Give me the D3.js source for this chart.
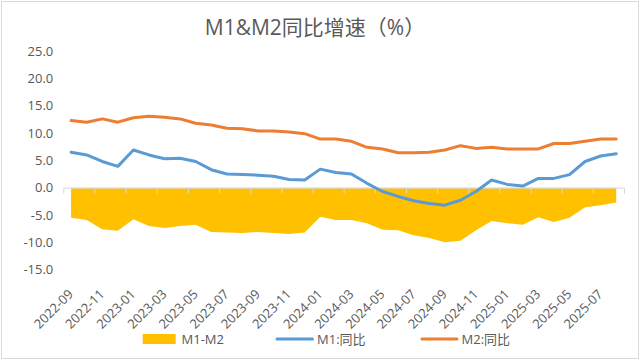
<!DOCTYPE html>
<html>
<head>
<meta charset="utf-8">
<script src="https://cdn.jsdelivr.net/npm/d3@7"></script>
<style>
  html, body { margin: 0; padding: 0; background: #fff; }
  svg { display: block; }
  text { font-family: "Open Sans", "Noto Sans CJK SC", sans-serif; fill: #595959; }
</style>
</head>
<body>
<svg id="chart" width="641" height="360"></svg>
<script>
const months = ["2022-09","2022-10","2022-11","2022-12","2023-01","2023-02","2023-03","2023-04","2023-05","2023-06","2023-07","2023-08",
  "2023-09","2023-10","2023-11","2023-12","2024-01","2024-02","2024-03","2024-04","2024-05","2024-06","2024-07","2024-08",
  "2024-09","2024-10","2024-11","2024-12","2025-01","2025-02","2025-03","2025-04","2025-05","2025-06","2025-07","2025-08"];
const m1 = [6.5, 6.0, 4.8, 3.9, 6.9, 6.0, 5.3, 5.4, 4.8, 3.3, 2.5, 2.4, 2.3, 2.1, 1.5, 1.4, 3.4, 2.8,
  2.5, 0.8, -0.7, -1.6, -2.4, -2.9, -3.2, -2.3, -0.7, 1.4, 0.6, 0.3, 1.7, 1.7, 2.4, 4.8, 5.8, 6.2];
const m2 = [12.3, 12.0, 12.6, 12.0, 12.8, 13.1, 12.9, 12.6, 11.8, 11.5, 10.9, 10.8, 10.4, 10.4, 10.2, 9.9, 8.9, 8.9,
  8.5, 7.4, 7.1, 6.4, 6.4, 6.5, 6.9, 7.7, 7.2, 7.4, 7.1, 7.1, 7.1, 8.1, 8.1, 8.5, 8.9, 8.9];
const diff = [-5.5, -5.9, -7.6, -7.9, -5.8, -7.0, -7.4, -7.0, -6.8, -8.1, -8.2, -8.3, -8.1, -8.3, -8.5, -8.2, -5.3, -5.9,
  -5.9, -6.5, -7.7, -7.8, -8.7, -9.2, -10.0, -9.7, -7.8, -6.1, -6.5, -6.8, -5.4, -6.3, -5.5, -3.6, -3.2, -2.7];
const yTicks = [-15, -10, -5, 0, 5, 10, 15, 20, 25];
const title = "M1&M2同比增速（%）";
const seriesNames = ["M1-M2", "M1:同比", "M2:同比"];

(function () {
const colors = { diff: "#FFC000", m1: "#5B9BD5", m2: "#ED7D31" };
const svg = d3.select("#chart");

// chart border
svg.append("rect").attr("x", 1.5).attr("y", 1.5).attr("width", 637).attr("height", 357)
  .attr("fill", "#fff").attr("stroke", "#D9D9D9").attr("stroke-width", 1);

const pLeft = 63.3, pRight = 624, pTop = 51.2, pBottom = 269.6;
const x = d3.scaleBand().domain(months).range([pLeft, pRight]).padding(0);
const xc = d => x(d) + x.bandwidth() / 2;
const y = d3.scaleLinear().domain([-15, 25]).range([pBottom, pTop]);
const xb = d3.scaleLinear().domain([0, months.length]).range([pLeft, pRight]);

// title
svg.append("text").attr("x", 315).attr("y", 35).attr("text-anchor", "middle")
  .style("font-size", "21px").text(title);

// y axis
const ya = svg.append("g").attr("transform", `translate(${pLeft},0)`)
  .call(d3.axisLeft(y).tickValues(yTicks).tickSize(0).tickPadding(10).tickFormat(d => d.toFixed(1)));
ya.select(".domain").remove();
ya.selectAll("text").style("font-size", "13px").attr("font-family", null).attr("fill", "#595959");

// area
const area = d3.area().x((d, i) => xc(months[i])).y0(y(0)).y1(d => y(d));
svg.append("path").datum(diff).attr("d", area).attr("fill", colors.diff);

// x axis at zero
const xa = svg.append("g").attr("transform", `translate(0,${y(0)})`)
  .call(d3.axisBottom(xb).tickValues(d3.range(0, months.length + 1, 2)).tickSize(6).tickSizeOuter(0).tickFormat(""));
xa.select(".domain").attr("stroke", "#D9D9D9");
xa.selectAll(".tick line").attr("stroke", "#D9D9D9");

// lines
const line = d3.line().x((d, i) => xc(months[i])).y(d => y(d));
svg.append("path").datum(m1).attr("d", line).attr("fill", "none").attr("stroke", colors.m1)
  .attr("stroke-width", 3).attr("stroke-linejoin", "round").attr("stroke-linecap", "round");
svg.append("path").datum(m2).attr("d", line).attr("fill", "none").attr("stroke", colors.m2)
  .attr("stroke-width", 3).attr("stroke-linejoin", "round").attr("stroke-linecap", "round");

// x labels
svg.append("g").selectAll("text").data(months.filter((d, i) => i % 2 === 0)).join("text")
  .attr("text-anchor", "end")
  .attr("transform", d => `translate(${xc(d) + 3},295) rotate(-45)`)
  .style("font-size", "13px").text(d => d);

// legend
const lg = svg.append("g");
lg.append("rect").attr("x", 142.7).attr("y", 334).attr("width", 33).attr("height", 10).attr("fill", colors.diff);
lg.append("text").attr("x", 181.5).attr("y", 344).style("font-size", "13px").text(seriesNames[0]);
lg.append("line").attr("x1", 277).attr("x2", 312.5).attr("y1", 339).attr("y2", 339)
  .attr("stroke", colors.m1).attr("stroke-width", 3).attr("stroke-linecap", "round");
lg.append("text").attr("x", 317).attr("y", 344).style("font-size", "13px").text(seriesNames[1]);
lg.append("line").attr("x1", 422).attr("x2", 457).attr("y1", 339).attr("y2", 339)
  .attr("stroke", colors.m2).attr("stroke-width", 3).attr("stroke-linecap", "round");
lg.append("text").attr("x", 461.5).attr("y", 344).style("font-size", "13px").text(seriesNames[2]);
})();
</script>
</body>
</html>
